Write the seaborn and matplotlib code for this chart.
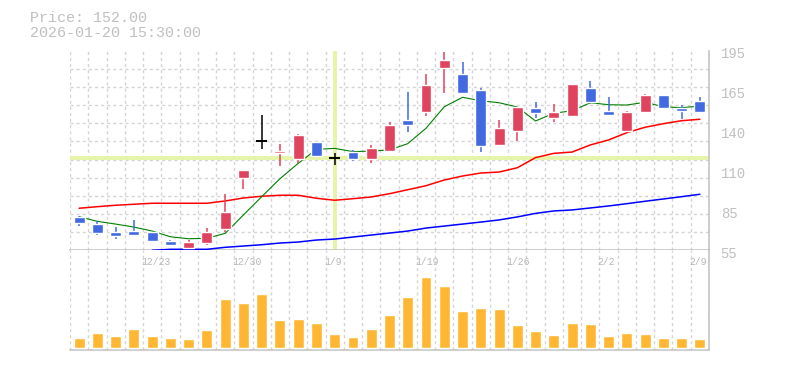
import numpy as np
import pandas as pd
import matplotlib
matplotlib.use("Agg")
import matplotlib.pyplot as plt
import matplotlib.transforms as mtransforms
import seaborn as sns

# daily candles
dates = ["12/17", "12/18", "12/19", "12/22", "12/23", "12/24", "12/25", "12/26", "12/29", "12/30",
         "1/5", "1/6", "1/7", "1/8", "1/9", "1/13", "1/14", "1/15", "1/16", "1/19",
         "1/20", "1/21", "1/22", "1/23", "1/26", "1/27", "1/28", "1/29", "1/30", "2/2",
         "2/3", "2/4", "2/5", "2/6", "2/9"]
opens = [78.6, 73.4, 67.8, 68.7, 67.8, 61.5, 56.8, 60.3, 70.2, 105.9,
         131.5, 123.5, 119.2, 131.0, 119.4, 123.9, 119.2, 124.9, 146.4, 152.0,
         182.9, 178.7, 167.4, 129.1, 138.9, 154.8, 148.0, 149.4, 168.8, 152.7,
         138.9, 152.2, 163.9, 154.8, 159.7]
highs = [79.3, 75.3, 71.3, 76.3, 67.8, 62.2, 62.4, 70.9, 94.3, 111.3,
         149.9, 129.8, 136.8, 131.0, 123.0, 125.1, 128.9, 145.0, 166.2, 178.7,
         194.3, 187.1, 168.6, 146.4, 155.5, 159.0, 157.6, 171.6, 173.7, 162.5,
         152.7, 164.6, 163.9, 156.9, 162.5]
lows = [72.3, 65.9, 63.1, 65.2, 61.0, 58.2, 56.1, 58.9, 68.0, 98.0,
        126.3, 114.3, 116.0, 121.4, 114.8, 117.8, 116.2, 124.9, 138.0, 149.4,
        165.5, 165.3, 123.9, 129.1, 131.7, 147.8, 145.0, 149.4, 157.4, 149.9,
        138.9, 152.2, 155.0, 147.1, 152.0]
closes = [74.4, 67.3, 65.2, 65.9, 61.7, 58.9, 60.8, 67.8, 81.9, 111.3,
          131.5, 124.6, 135.9, 121.4, 119.4, 119.2, 126.8, 142.9, 143.1, 170.9,
          188.5, 165.3, 128.4, 140.8, 155.5, 151.5, 152.0, 171.6, 159.0, 149.9,
          152.0, 163.9, 155.0, 152.9, 152.0]
volume = [290, 440, 350, 560, 350, 290, 260, 530, 1460, 1340,
          1610, 830, 860, 740, 410, 320, 570, 990, 1530, 2130,
          1860, 1110, 1200, 1170, 680, 500, 380, 740, 710, 350,
          440, 410, 290, 290, 260]

# moving averages (history before the window is not shown, so read from the chart)
ma_short = [78.6, 75.3, 73.4, 71.3, 68.5, 64.5, 63.1, 63.4, 66.9, 79.8,
            92.6, 105.2, 116.0, 125.8, 126.5, 124.2, 124.6, 125.4, 129.8, 140.6,
            155.7, 162.3, 159.9, 158.5, 155.5, 145.7, 151.1, 152.9, 158.5, 157.1,
            156.9, 158.8, 155.7, 155.0, 156.2]
ma_mid = [84.5, 85.6, 86.6, 87.3, 88.0, 88.0, 88.0, 88.0, 89.6, 91.7,
          92.9, 93.6, 93.6, 91.5, 90.1, 91.2, 92.4, 94.7, 97.5, 100.3,
          104.3, 107.1, 109.2, 109.9, 112.9, 120.0, 123.0, 123.9, 128.9, 132.4,
          137.5, 141.3, 143.8, 145.9, 146.9]
ma_long = [np.nan, np.nan, np.nan, np.nan, 55.0, 55.7, 55.7, 55.7, 57.1, 58.0,
           58.9, 60.1, 60.8, 62.2, 62.9, 64.3, 65.7, 67.1, 68.5, 70.6,
           72.0, 73.4, 74.8, 76.3, 78.4, 80.9, 82.6, 83.3, 84.7, 86.1,
           87.7, 89.4, 91.0, 92.6, 94.3]

price_ticks = [55, 83, 111, 139, 167, 195]
price_tick_labels = ["55", "85", "110", "140", "165", "195"]
date_ticks = ["12/23", "12/30", "1/9", "1/19", "1/26", "2/2", "2/9"]
cursor_date = "1/9"
cursor_price = 119.4
header = ["Price: 152.00", "2026-01-20 15:30:00"]

UP = "#e0435e"
DOWN = "#4169e1"
VOL = "#ffb733"
GRID = "#d4d4d4"
AXIS = "#c0c0c0"
TXT = "#c0c0c0"

sns.set_theme(style="white")
plt.rcParams["font.family"] = ["Liberation Mono", "DejaVu Sans Mono"]

df = pd.DataFrame({"date": dates, "open": opens, "high": highs, "low": lows,
                   "close": closes, "volume": volume,
                   "ma5": ma_short, "ma25": ma_mid, "ma75": ma_long})
df["idx"] = np.arange(len(df))
n = len(df)

fig = plt.figure(figsize=(7.85, 3.7), dpi=100)
ax = fig.add_axes([70 / 785, (370 - 250.3) / 370, 639 / 785, 199.6 / 370])
axv = fig.add_axes([70 / 785, 20 / 370, 639 / 785, 99.7 / 370])

# moving averages under the candles
sns.lineplot(data=df, x="idx", y="ma75", color="#0000ff", lw=1.1, ax=ax, zorder=3)
sns.lineplot(data=df, x="idx", y="ma25", color="#ff0000", lw=1.1, ax=ax, zorder=3)
sns.lineplot(data=df, x="idx", y="ma5", color="#008000", lw=0.8, ax=ax, zorder=3)

# cursor
ci = dates.index(cursor_date)
ax.axvline(ci, color="#e6f4a8", lw=2.8, zorder=2)
ax.axhline(cursor_price, color="#e6f4a8", lw=2.8, zorder=2)

# candles
doji = df["close"] == df["open"]
colors = np.where(df["close"] > df["open"], UP, np.where(doji, "black", DOWN))
ax.vlines(df["idx"], df["low"], df["high"], colors=colors, lw=1.1, zorder=4)
body = df[~doji]
ax.bar(body["idx"], (body["close"] - body["open"]).abs(),
       bottom=body[["open", "close"]].min(axis=1), width=0.6,
       color=colors[~doji.values], zorder=5)
dj = df[doji]
ax.hlines(dj["close"], dj["idx"] - 0.3, dj["idx"] + 0.3, colors="black", lw=1.4, zorder=5)

ax.set_xlim(-0.5, n - 0.5)
ax.set_ylim(55, 195)
ax.set_xlabel("")
ax.set_ylabel("")
ax.set_xticks([])
ax.set_xticks(np.arange(-0.5, n, 1), minor=True)
ax.set_yticks(price_ticks)
ax.set_yticklabels(price_tick_labels)
ax.set_yticks(np.linspace(55, 195, 12), minor=True)
ax.yaxis.tick_right()
ax.tick_params(axis="y", which="major", length=0, pad=8.4, labelsize=10, labelcolor=TXT)
ax.tick_params(which="minor", length=0)
ax.grid(which="minor", color=GRID, ls=(0, (2.2, 2.2)), lw=1.0)
ax.grid(which="major", visible=False)
for lbl in ax.get_yticklabels():
    lbl.set_transform(lbl.get_transform() + mtransforms.ScaledTranslation(0, -2 / 100, fig.dpi_scale_trans))
for s in ["left", "top"]:
    ax.spines[s].set_visible(False)
for s in ["right", "bottom"]:
    ax.spines[s].set_color(AXIS)
    ax.spines[s].set_linewidth(1.1)

# volume panel
sns.barplot(data=df, x="idx", y="volume", color=VOL, saturation=1, width=0.6, ax=axv, zorder=3)
axv.set_xlim(-0.5, n - 0.5)
axv.set_ylim(-69, 2922)
axv.set_xlabel("")
axv.set_ylabel("")
axv.set_xticks([])
axv.set_yticks([])
axv.set_xticks(np.arange(-0.5, n, 1), minor=True)
axv.tick_params(which="minor", length=0)
axv.grid(which="minor", axis="x", color=GRID, ls=(0, (2.2, 2.2)), lw=1.0)
for s in ["left", "top"]:
    axv.spines[s].set_visible(False)
for s in ["right", "bottom"]:
    axv.spines[s].set_color(AXIS)
    axv.spines[s].set_linewidth(1.1)

trans = mtransforms.blended_transform_factory(axv.transData, axv.transAxes)
for d in date_ticks:
    i = dates.index(d)
    axv.text(i - 0.6, 0.88, d, transform=trans, ha="left", va="center",
             fontsize=7, color="#b8b8b8", zorder=4)

fig.text(30 / 785, 1 - 18.3 / 370, header[0], fontsize=10.8, color=TXT, va="center")
fig.text(30 / 785, 1 - 32.7 / 370, header[1], fontsize=10.8, color=TXT, va="center")

fig.savefig("out.png", dpi=100, facecolor="white")
